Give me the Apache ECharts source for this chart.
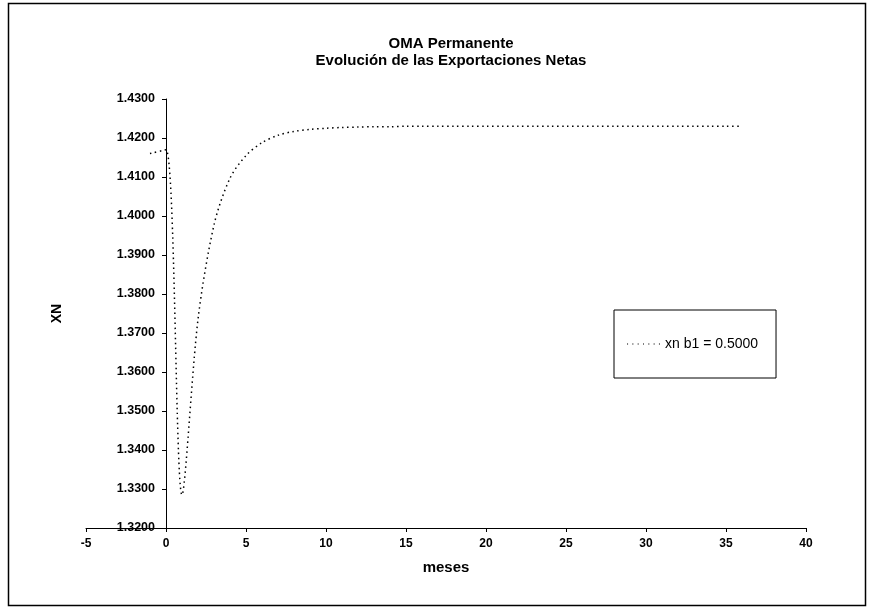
<!DOCTYPE html>
<html>
<head>
<meta charset="utf-8">
<script src="https://cdn.jsdelivr.net/npm/echarts@6/dist/echarts.min.js"></script>
<style>
html,body{margin:0;padding:0;background:#fff;}
#c{width:870px;height:611px;}
</style>
</head>
<body>
<div id="c"></div>
<script>
var titleLines = ['OMA Permanente', 'Evolución de las Exportaciones Netas'];
var seriesName = 'xn b1 = 0.5000';
var xAxisName = 'meses';
var yAxisName = 'XN';
var months = [-1, 0, 1, 2, 3, 4, 5, 6, 7, 8, 9, 10, 11, 12, 13, 14, 15, 16, 17, 18, 19, 20, 21, 22, 23, 24, 25, 26, 27, 28, 29, 30, 31, 32, 33, 34, 35, 36];
var xn = [1.4160, 1.4170, 1.3285, 1.3735, 1.3977, 1.4097, 1.4155, 1.4188, 1.4207, 1.4217, 1.4222, 1.4225, 1.4227, 1.4228, 1.4229, 1.4229,
  1.4230, 1.4230, 1.4230, 1.4230, 1.4230, 1.4230, 1.4230, 1.4230, 1.4230, 1.4230, 1.4230, 1.4230, 1.4230, 1.4230, 1.4230, 1.4230,
  1.4230, 1.4230, 1.4230, 1.4230, 1.4230, 1.4230];

var data = months.map(function (m, i) { return [m, xn[i]]; });
var font = 'Liberation Sans, Arial, sans-serif';
var chart = echarts.init(document.getElementById('c'));
chart.setOption({
  animation: false,
  backgroundColor: '#fff',
  title: {
    text: titleLines.join('\n'),
    left: 446, top: 30, textAlign: 'center',
    textStyle: { fontFamily: font, fontSize: 15, fontWeight: 'bold', color: '#000', lineHeight: 17 }
  },
  graphic: [{
    type: 'rect', shape: { x: 8.5, y: 3.5, width: 857, height: 602 },
    style: { fill: 'none', stroke: '#000', lineWidth: 1.5 }, silent: true
  }],
  legend: {
    left: 614, top: 310,
    padding: [27, 18, 27, 13],
    borderColor: '#000', borderWidth: 1,
    itemWidth: 33, itemHeight: 10, itemGap: 0,
    textStyle: { fontFamily: font, fontSize: 14, color: '#000' },
    data: [{ name: seriesName, icon: 'path://M0,5L1,5L1,6L0,6Z M5,5L6,5L6,6L5,6Z M10,5L11,5L11,6L10,6Z M15,5L16,5L16,6L15,6Z M20,5L21,5L21,6L20,6Z M25,5L26,5L26,6L25,6Z M30,5L31,5L31,6L30,6Z', itemStyle: { color: '#000' } }]
  },
  grid: { left: 86, right: 64, top: 99, bottom: 83, containLabel: false, outerBoundsMode: 'none' },
  xAxis: {
    type: 'value', min: -5, max: 40, interval: 5,
    name: xAxisName, nameLocation: 'middle', nameGap: 32,
    nameTextStyle: { fontFamily: font, fontSize: 15, fontWeight: 'bold', color: '#000' },
    axisLine: { onZero: false, lineStyle: { color: '#000', width: 1 } },
    axisTick: { show: true, length: 4, inside: false, lineStyle: { color: '#000' } },
    axisLabel: { fontFamily: font, fontSize: 12, fontWeight: 'bold', color: '#000', margin: 10 },
    splitLine: { show: false }
  },
  yAxis: {
    type: 'value', min: 1.32, max: 1.43, interval: 0.01,
    offset: -80,
    name: yAxisName, nameLocation: 'middle', nameGap: 102, nameRotate: 90,
    nameTextStyle: { fontFamily: font, fontSize: 14, fontWeight: 'bold', color: '#000' },
    axisLine: { onZero: false, lineStyle: { color: '#000', width: 1 } },
    axisTick: { show: true, length: 4, inside: false, lineStyle: { color: '#000' } },
    axisLabel: { fontFamily: font, fontSize: 12.5, fontWeight: 'bold', color: '#000', margin: 11,
      formatter: function (v) { return v.toFixed(4); } },
    splitLine: { show: false }
  },
  series: [{
    name: seriesName,
    type: 'line',
    data: data,
    smooth: 0.3,
    showSymbol: false,
    symbol: 'none',
    lineStyle: { color: '#000', width: 1.5, type: [1.5, 3.5] }
  }]
});
</script>
</body>
</html>
